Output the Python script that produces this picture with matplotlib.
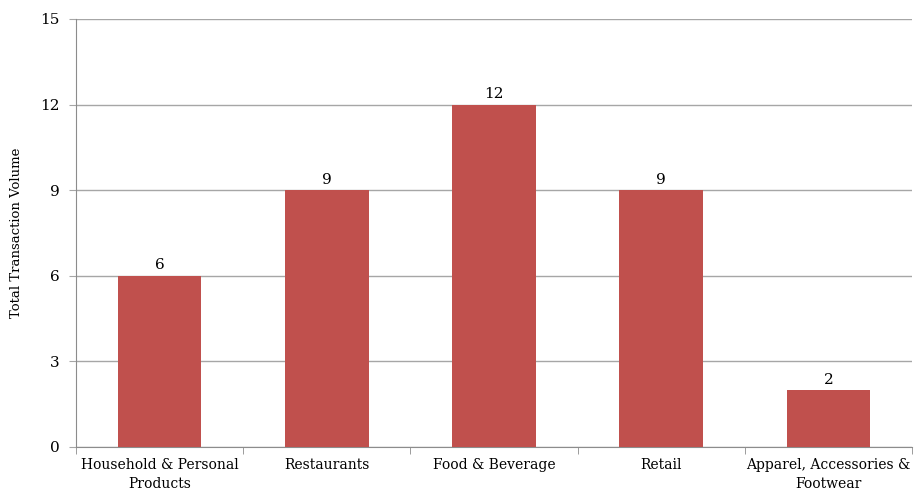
import matplotlib.pyplot as plt
import numpy as np

categories = ["Household & Personal\nProducts", "Restaurants", "Food & Beverage",
              "Retail", "Apparel, Accessories &\nFootwear"]
volumes = [6, 9, 12, 9, 2]
y_ticks = [0, 3, 6, 9, 12, 15]

plt.rcParams["font.family"] = ["DejaVu Serif"]

fig = plt.figure(figsize=(9.17, 4.96), dpi=100)
ax = fig.add_axes([76 / 917, 49 / 496, 836 / 917, 428 / 496])

x = np.arange(len(categories))
bars = ax.bar(x, volumes, width=0.5, color="#C0504D", zorder=3)
for rect, v in zip(bars, volumes):
    ax.text(rect.get_x() + rect.get_width() / 2, v + 0.12, str(v),
            ha="center", va="bottom", fontsize=11, color="black")

ax.set_xlim(-0.5, len(categories) - 0.5)
ax.set_ylim(0, 15)
ax.set_yticks(y_ticks)
ax.yaxis.grid(True, color="#a6a6a6", linewidth=1, zorder=0)
ax.set_xticks(x)
ax.set_xticklabels(categories, fontsize=10, linespacing=1.45)
ax.set_xticks(np.arange(-0.5, len(categories)), minor=True)
ax.tick_params(axis="x", which="major", length=0, pad=8)
ax.tick_params(axis="x", which="minor", length=5, color="#8c8c8c")
ax.tick_params(axis="y", length=5, color="#a6a6a6", labelsize=11, pad=7)

for side in ["top", "right"]:
    ax.spines[side].set_visible(False)
ax.spines["left"].set_color("#8c8c8c")
ax.spines["bottom"].set_color("#8c8c8c")

ax.set_ylabel("Total Transaction Volume", fontsize=9.5)
ax.yaxis.set_label_coords(-0.063, 0.5)

fig.savefig("out.png", dpi=100)
